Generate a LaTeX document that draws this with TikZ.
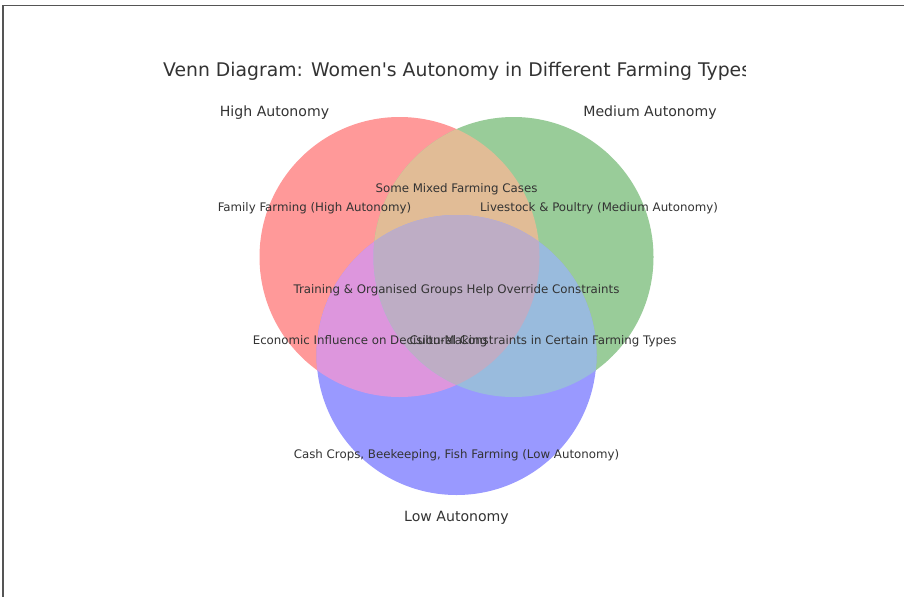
\documentclass[tikz,border=0pt]{standalone}
\usepackage{fontspec}
\setmainfont{DejaVu Sans}
\usetikzlibrary{positioning}

\definecolor{onlyHigh}{HTML}{FF9999}
\definecolor{onlyMed}{HTML}{99CC99}
\definecolor{onlyLow}{HTML}{9999FF}
\definecolor{highMed}{HTML}{E1BC96}
\definecolor{highLow}{HTML}{DD96DD}
\definecolor{medLow}{HTML}{99BBDD}
\definecolor{allThree}{HTML}{BEADC5}
\definecolor{txtgray}{HTML}{333333}
\definecolor{framegray}{HTML}{555555}

\begin{document}
\begin{tikzpicture}[x=1pt, y=-1pt]
\tikzset{basictext/.style={text=txtgray, inner sep=0pt, anchor=center}, titletext/.style={basictext, font=\fontsize{18.8}{22}\selectfont}, settext/.style={basictext, font=\fontsize{14.1}{17}\selectfont}, regiontext/.style={basictext, font=\fontsize{11.8}{14}\selectfont}}
\useasboundingbox (0,0) rectangle (904,597);
\fill[white] (0,0) rectangle (904,597);
% set centres
\coordinate (high) at (399.5,257);
\coordinate (med) at (513.5,257);
\coordinate (low) at (456.5,355);
\def\rad{140pt}
% single sets first, overlaps painted on top
\fill[onlyHigh] (high) circle (\rad);
\fill[onlyMed] (med) circle (\rad);
\fill[onlyLow] (low) circle (\rad);
\begin{scope}
\clip (high) circle (\rad);
\fill[highMed] (med) circle (\rad);
\fill[highLow] (low) circle (\rad);
\end{scope}
\begin{scope}
\clip (med) circle (\rad);
\fill[medLow] (low) circle (\rad);
\end{scope}
\begin{scope}
\clip (high) circle (\rad);
\clip (med) circle (\rad);
\fill[allThree] (low) circle (\rad);
\end{scope}
% title, cut off on the right
\begin{scope}
\clip (0,0) rectangle (745,597);
\node[titletext, anchor=west] (title) at (163,71.5) {Venn Diagram: Women\textquotesingle s Autonomy in Different Farming Types};
\end{scope}
% set labels
\node[settext] (highlbl) at (274.5,112.5) {High Autonomy};
\node[settext] (medlbl) at (650,112.5) {Medium Autonomy};
\node[settext] (lowlbl) at (456.5,517.5) {Low Autonomy};
% region labels
\node[regiontext] (mixed) at (456.5,189.5) {Some Mixed Farming Cases};
\node[regiontext] (family) at (314.5,208) {Family Farming (High Autonomy)};
\node[regiontext] (livestock) at (599,208) {Livestock \& Poultry (Medium Autonomy)};
\node[regiontext] (training) at (456.5,290.5) {Training \& Organised Groups Help Override Constraints};
\node[regiontext] (economic) at (370,341) {Economic Influence on Decision-Making};
\node[regiontext] (cultural) at (543,341) {Cultural Constraints in Certain Farming Types};
\node[regiontext] (cash) at (456.5,455) {Cash Crops, Beekeeping, Fish Farming (Low Autonomy)};
% frame edges
\draw[framegray, line width=1.6pt] (2,5.5) -- (904,5.5);
\draw[framegray, line width=1.6pt] (3,5.5) -- (3,597);
\end{tikzpicture}
\end{document}
